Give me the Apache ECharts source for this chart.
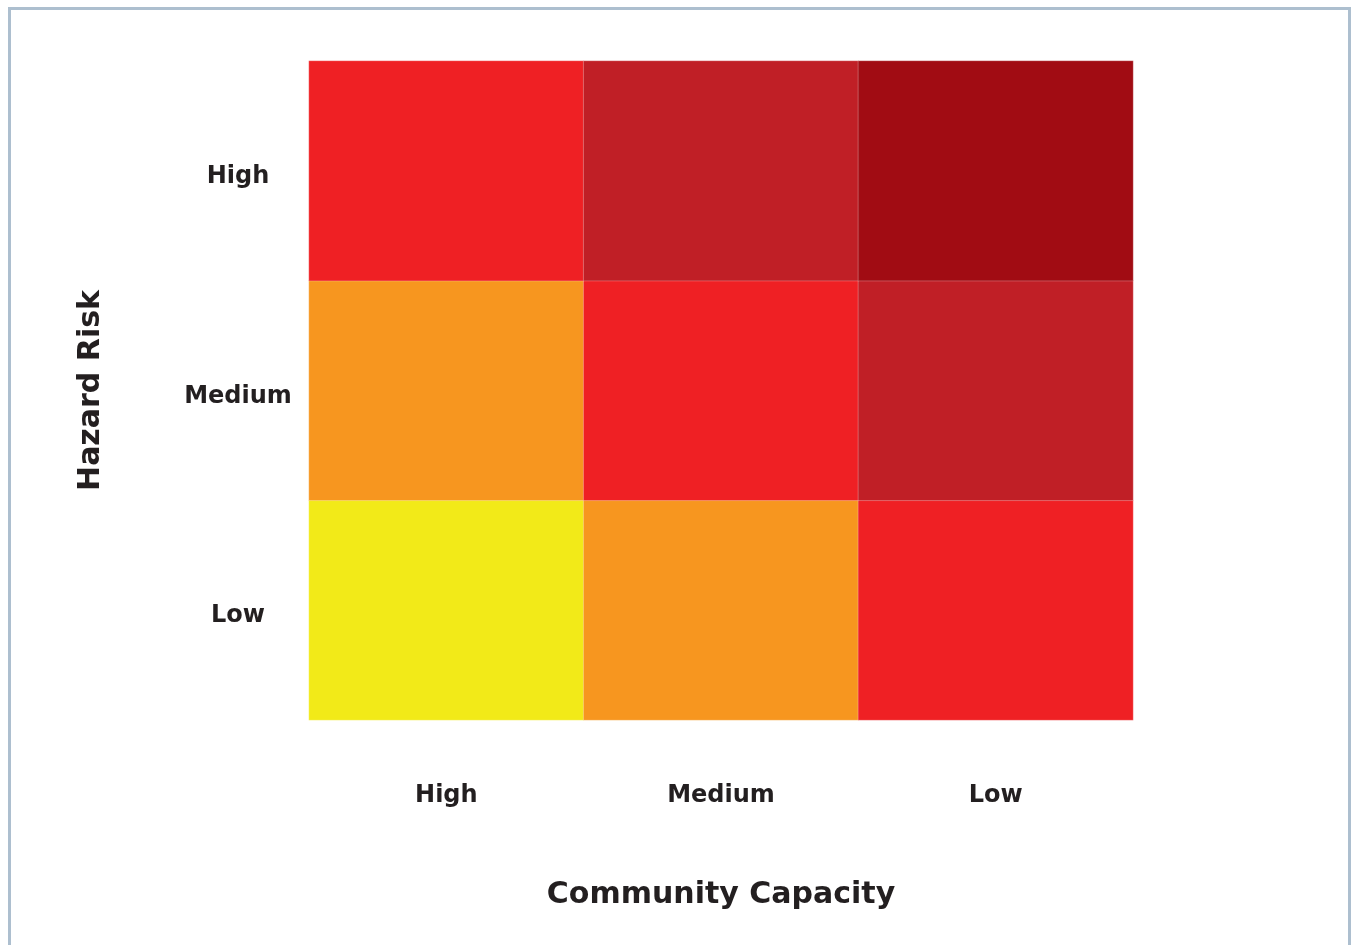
<!DOCTYPE html>
<html>
<head>
<meta charset="utf-8">
<script src="https://cdn.jsdelivr.net/npm/echarts@6/dist/echarts.min.js"></script>
<style>
html,body{margin:0;padding:0;background:#fff;}
#chart{width:1353px;height:945px;}
</style>
</head>
<body>
<div id="chart"></div>
<script>
const capacityLevels = ['High', 'Medium', 'Low'];
const hazardLevels = ['Low', 'Medium', 'High'];
// risk level per cell: rows = hazard (Low, Medium, High), columns = capacity (High, Medium, Low)
const riskLow = [1, 2, 3];
const riskMedium = [2, 3, 4];
const riskHigh = [3, 4, 5];
const riskColors = ['#F2EA18', '#F7961F', '#EF2024', '#C01F26', '#A10C13'];
const xAxisName = 'Community Capacity';
const yAxisName = 'Hazard Risk';

const rows = [riskLow, riskMedium, riskHigh];
const data = [];
rows.forEach((row, yi) => row.forEach((v, xi) => data.push([xi, yi, v])));

const FONT = 'DejaVu Sans';
const chart = echarts.init(document.getElementById('chart'));
chart.setOption({
  backgroundColor: '#fff',
  animation: false,
  graphic: [{
    type: 'rect',
    shape: {x: 9.5, y: 8.5, width: 1340, height: 980},
    style: {fill: 'none', stroke: '#adbfcf', lineWidth: 3},
    silent: true
  }],
  grid: {left: 309, right: 220, top: 61, bottom: 225},
  xAxis: {
    type: 'category',
    data: capacityLevels,
    name: xAxisName,
    nameLocation: 'middle',
    nameGap: 160,
    nameTextStyle: {fontFamily: FONT, fontWeight: 'bold', fontSize: 30, color: '#231f20'},
    axisLine: {show: false},
    axisTick: {show: false},
    splitLine: {show: false},
    axisLabel: {margin: 76, verticalAlign: 'middle', fontFamily: FONT, fontWeight: 'bold', fontSize: 24, color: '#231f20'}
  },
  yAxis: {
    type: 'category',
    data: hazardLevels,
    name: yAxisName,
    nameLocation: 'middle',
    nameGap: 203,
    nameRotate: 90,
    nameTextStyle: {fontFamily: FONT, fontWeight: 'bold', fontSize: 30, color: '#231f20'},
    axisLine: {show: false},
    axisTick: {show: false},
    splitLine: {show: false},
    axisLabel: {
      margin: 71, align: 'center', verticalAlign: 'middle',
      formatter: v => '{a|' + v + '}',
      rich: {a: {padding: [12, 0, 0, 0], fontFamily: FONT, fontWeight: 'bold', fontSize: 24, color: '#231f20'}}
    }
  },
  visualMap: {
    show: false,
    type: 'piecewise',
    dimension: 2,
    pieces: riskColors.map((c, i) => ({value: i + 1, color: c}))
  },
  series: [{
    type: 'heatmap',
    data: data,
    itemStyle: {borderColor: 'rgba(255,255,255,0.25)', borderWidth: 1},
    label: {show: false},
    emphasis: {disabled: true}
  }]
});
</script>
</body>
</html>
